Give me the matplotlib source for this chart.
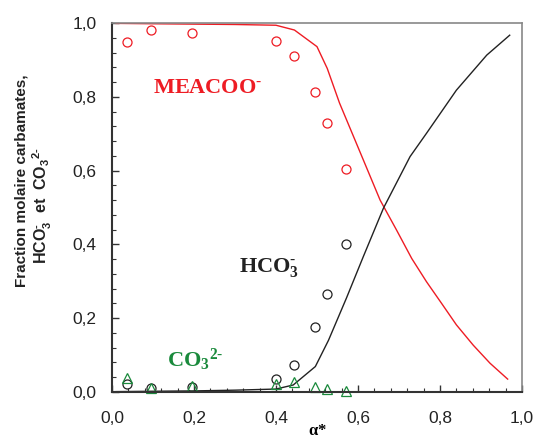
import matplotlib
matplotlib.use('Agg')
import matplotlib.pyplot as plt
from matplotlib.ticker import MultipleLocator

# experimental points (alpha*)
alpha_exp = [0.037, 0.094, 0.194, 0.400, 0.445, 0.494, 0.524, 0.571]
meacoo_exp = [0.949, 0.980, 0.974, 0.951, 0.910, 0.814, 0.730, 0.604]
hco3_exp = [0.021, 0.012, 0.014, 0.036, 0.073, 0.176, 0.266, 0.402]
co3_exp = [0.037, 0.012, 0.015, 0.021, 0.026, 0.013, 0.008, 0.002]

# model curves
alpha_meacoo = [0.01, 0.1, 0.2, 0.3, 0.4, 0.445, 0.5, 0.525, 0.555, 0.613, 0.654,
                0.694, 0.731, 0.767, 0.804, 0.840, 0.881, 0.922, 0.965]
meacoo_mod = [0.999, 0.998, 0.997, 0.996, 0.994, 0.981, 0.936, 0.877, 0.783, 0.629, 0.520,
              0.439, 0.362, 0.299, 0.240, 0.182, 0.127, 0.078, 0.035]
alpha_hco3 = [0.01, 0.1, 0.2, 0.3, 0.4, 0.442, 0.496, 0.528, 0.572, 0.613, 0.662,
              0.727, 0.767, 0.840, 0.914, 0.970]
hco3_mod = [0.001, 0.002, 0.003, 0.005, 0.008, 0.019, 0.069, 0.14, 0.255, 0.367, 0.498,
            0.638, 0.701, 0.818, 0.913, 0.967]

ticks = [0.0, 0.2, 0.4, 0.6, 0.8, 1.0]
tick_labels = ['0,0', '0,2', '0,4', '0,6', '0,8', '1,0']

red = '#ee1c24'
green = '#1a8a3c'

plt.rcParams['font.family'] = 'Liberation Sans'
plt.rcParams['mathtext.default'] = 'regular'

fig = plt.figure(figsize=(5.35, 4.41), dpi=100)
ax = fig.add_axes([0.2093, 0.1111, 0.7664, 0.8367])

ax.plot(alpha_meacoo, meacoo_mod, color=red, lw=1.0)
ax.plot(alpha_hco3, hco3_mod, color='#222222', lw=1.0)
ax.plot(alpha_exp, meacoo_exp, 'o', mfc='none', mec=red, ms=6.5, mew=0.9, ls='none')
ax.plot(alpha_exp, hco3_exp, 'o', mfc='none', mec='#222222', ms=6.5, mew=0.9, ls='none')
ax.plot(alpha_exp, co3_exp, '^', mfc='none', mec=green, ms=6.5, mew=0.9, ls='none',
        clip_on=False)

ax.set_xlim(0, 1)
ax.set_ylim(0, 1)
ax.set_xticks(ticks)
ax.set_xticklabels(tick_labels)
ax.set_yticks(ticks)
ax.set_yticklabels(tick_labels)
ax.xaxis.set_minor_locator(MultipleLocator(0.04))
ax.yaxis.set_minor_locator(MultipleLocator(0.04))
ax.tick_params(which='both', direction='in', top=False, right=False, color='#333333')
ax.tick_params(which='major', length=5, width=1.0, labelsize=12.5, labelcolor='#222222')
ax.tick_params(axis='x', which='major', pad=14)
ax.tick_params(axis='y', which='major', pad=11)
ax.tick_params(which='minor', length=3, width=0.8)

for s in ['left', 'bottom']:
    ax.spines[s].set_color('#333333')
    ax.spines[s].set_linewidth(1.5)
for s in ['top', 'right']:
    ax.spines[s].set_color('#888888')
    ax.spines[s].set_linewidth(1.2)

# y label, two lines drawn separately (second line sits a bit lower)
fig.text(0.041, 0.59, 'Fraction molaire carbamates,', rotation=90, ha='center',
         va='center', fontsize=11, fontweight='bold', color='#222222')
fig.text(0.079, 0.533, 'HCO$_3^{\u2010}$  et  CO$_3$$^{2\u2010}$', rotation=90,
         ha='center', va='center', fontsize=11.5, fontweight='bold', color='#222222')

ax.set_xlabel(r'$\alpha$*', fontsize=12, fontweight='bold', family='Liberation Serif')
ax.xaxis.set_label_coords(0.5, -0.085)

ax.text(0.10, 0.81, 'MEACOO$^{\u2010}$', color=red, fontsize=16, fontweight='bold',
        family='Liberation Serif')
ax.text(0.31, 0.325, 'HCO$_3^{\u2010}$', color='#222222', fontsize=16, fontweight='bold',
        family='Liberation Serif')
ax.text(0.134, 0.068, 'CO$_3$$^{2\u2010}$', color=green, fontsize=16, fontweight='bold',
        family='Liberation Serif')

fig.savefig('out.png', dpi=100)
